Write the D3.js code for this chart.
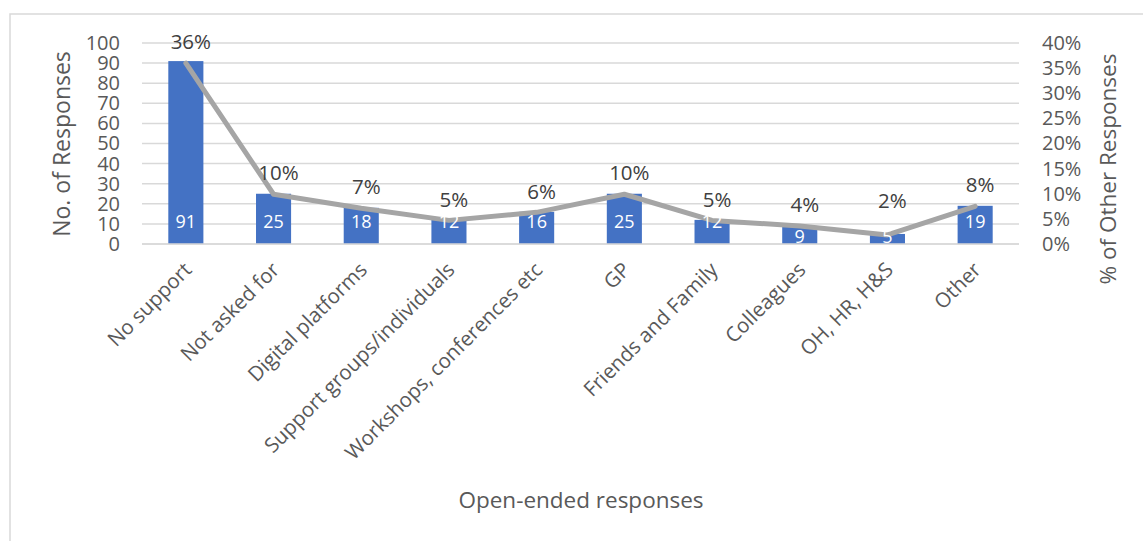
<!DOCTYPE html>
<html>
<head>
<meta charset="utf-8">
<script src="https://cdn.jsdelivr.net/npm/d3@7"></script>
<style>
  html, body { margin: 0; padding: 0; background: #fff; }
  svg text { font-family: "Open Sans", "Noto Sans", sans-serif; }
</style>
</head>
<body>
<svg id="chart" width="1143" height="541"></svg>
<script>
const categories = ["No support", "Not asked for", "Digital platforms", "Support groups/individuals",
  "Workshops, conferences etc", "GP", "Friends and Family", "Colleagues", "OH, HR, H&S", "Other"];
const counts = [91, 25, 18, 12, 16, 25, 12, 9, 5, 19];
const shares = [0.36, 0.099, 0.071, 0.047, 0.063, 0.099, 0.047, 0.036, 0.018, 0.075];
const leftTicks = [0, 10, 20, 30, 40, 50, 60, 70, 80, 90, 100];
const rightTicks = [0, 0.05, 0.10, 0.15, 0.20, 0.25, 0.30, 0.35, 0.40];
const leftTitle = "No. of Responses";
const rightTitle = "% of Other Responses";
const xTitle = "Open-ended responses";

const svg = d3.select("#chart");
const textColor = "#595959";

// chart border
svg.append("rect").attr("x", 10).attr("y", 14).attr("width", 1160).attr("height", 560)
  .attr("fill", "none").attr("stroke", "#d9d9d9").attr("stroke-width", 1.5);

const x = d3.scaleBand().domain(categories).range([142, 1019]).paddingInner(0.6).paddingOuter(0.3);
const yL = d3.scaleLinear().domain([0, 100]).range([244, 43]);
const yR = d3.scaleLinear().domain([0, 0.40]).range([244, 43]);

// gridlines
svg.append("g").selectAll("line").data(leftTicks).join("line")
  .attr("x1", 142).attr("x2", 1019)
  .attr("y1", d => yL(d)).attr("y2", d => yL(d))
  .attr("stroke", "#d9d9d9").attr("stroke-width", 1.5);

// left axis
const gL = svg.append("g").attr("transform", "translate(142,0)")
  .call(d3.axisLeft(yL).tickValues(leftTicks).tickSize(0).tickPadding(22));
gL.select(".domain").remove();
gL.selectAll("text").attr("fill", textColor).style("font-size", "20px");

// right axis
const gR = svg.append("g").attr("transform", "translate(1019,0)")
  .call(d3.axisRight(yR).tickValues(rightTicks).tickSize(0).tickPadding(23).tickFormat(d3.format(".0%")));
gR.select(".domain").remove();
gR.selectAll("text").attr("fill", textColor).style("font-size", "20px").attr("text-anchor", "start");

// bars
svg.append("g").selectAll("rect").data(categories).join("rect")
  .attr("x", d => x(d)).attr("width", x.bandwidth())
  .attr("y", (d, i) => yL(counts[i])).attr("height", (d, i) => yL(0) - yL(counts[i]))
  .attr("fill", "#4472C4");

// x axis baseline
svg.append("line").attr("x1", 142).attr("x2", 1019).attr("y1", yL(0)).attr("y2", yL(0))
  .attr("stroke", "#d9d9d9").attr("stroke-width", 1.5);

// line series
const cx = d => x(d) + x.bandwidth() / 2;
const line = d3.line().x((d, i) => cx(categories[i])).y(d => yR(d));
svg.append("path").datum(shares).attr("d", line)
  .attr("fill", "none").attr("stroke", "#A5A5A5").attr("stroke-width", 5)
  .attr("stroke-linejoin", "round").attr("stroke-linecap", "round");

// percent labels
svg.append("g").selectAll("text").data(shares).join("text")
  .attr("x", (d, i) => cx(categories[i]) + 5)
  .attr("y", d => yR(d) - (d < 0.03 ? 34 : 21))
  .attr("dy", "0.35em")
  .attr("text-anchor", "middle").attr("fill", "#404040").style("font-size", "20.5px")
  .text(d => d3.format(".0%")(d));

// bar value labels (inside base)
svg.append("g").selectAll("text").data(counts).join("text")
  .attr("x", (d, i) => cx(categories[i]))
  .attr("y", d => yL(0) - (d < 10 ? 7 : 22))
  .attr("dy", "0.35em")
  .attr("text-anchor", "middle").attr("fill", "#ffffff").style("font-size", "18px")
  .text(d => d);

// x category labels
svg.append("g").selectAll("text").data(categories).join("text")
  .attr("transform", d => `translate(${cx(d) + 2},${266}) rotate(-45)`)
  .attr("dy", "0.35em")
  .attr("text-anchor", "end").attr("fill", textColor).style("font-size", "20.5px")
  .text(d => d);

// axis titles
svg.append("text").attr("transform", "translate(62,144) rotate(-90)")
  .attr("dy", "0.35em").attr("text-anchor", "middle").attr("fill", textColor)
  .style("font-size", "23px").text(leftTitle);
svg.append("text").attr("transform", "translate(1108,169) rotate(-90)")
  .attr("dy", "0.35em").attr("text-anchor", "middle").attr("fill", textColor)
  .style("font-size", "22.5px").text(rightTitle);
svg.append("text").attr("x", 581).attr("y", 500)
  .attr("dy", "0.35em").attr("text-anchor", "middle").attr("fill", textColor)
  .style("font-size", "22.5px").text(xTitle);
</script>
</body>
</html>
